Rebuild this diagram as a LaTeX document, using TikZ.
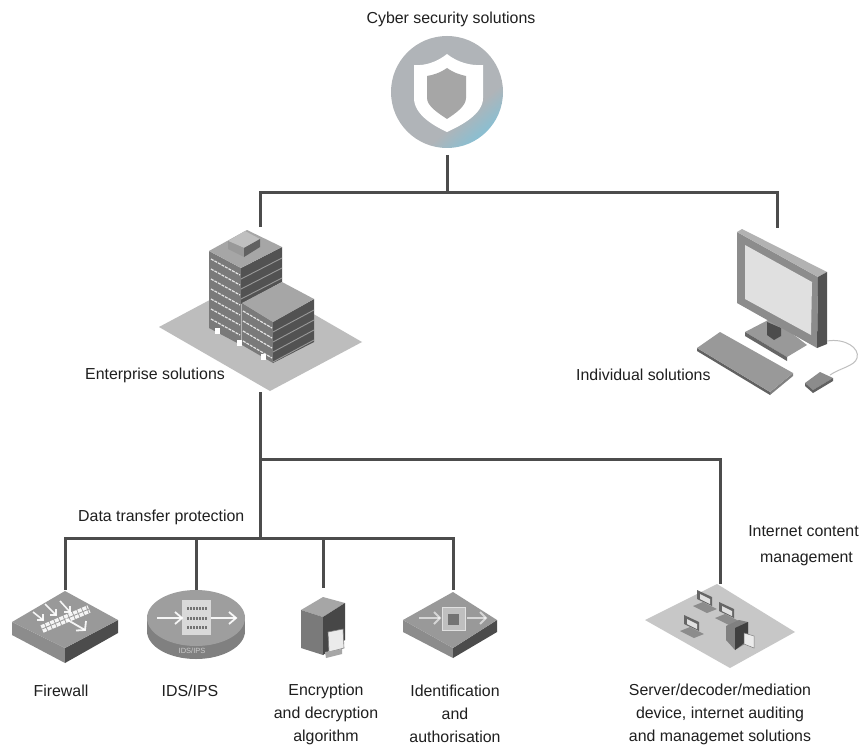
\documentclass[tikz,border=0pt]{standalone}
\usepackage{fontspec}
\setmainfont{Liberation Sans}
\definecolor{shieldblue}{RGB}{140,190,208}
\definecolor{shieldgrey}{RGB}{176,180,184}
\pgfdeclareverticalshading{shieldshade}{100bp}{color(0bp)=(shieldblue); color(26bp)=(shieldblue); color(37bp)=(shieldgrey); color(100bp)=(shieldgrey)}
\begin{document}
\begin{tikzpicture}[x=1pt,y=-1pt,
 lbl/.style={inner sep=0pt,font=\fontsize{15.9}{23}\selectfont,text=black!88,align=center},
 wire/.style={draw=black!70,line width=3pt,line cap=butt,line join=miter},
 gface/.style={fill=black!35,draw=none},
 lface/.style={fill=black!52,draw=none},
 dface/.style={fill=black!68,draw=none},
 ghost/.style={fill=black!26,draw=none},
 whitefill/.style={fill=white,draw=none},
 pcscreen/.style={fill=black!12,draw=none},
 arroww/.style={draw=white,line width=1.8pt,opacity=.9}]
\useasboundingbox (0,0) rectangle (866,746);
\fill[white] (0,0) rectangle (866,746);

% ---------- top icon ----------
\shade[shading=shieldshade,shading angle=40] (447,92) circle (56);
\path[fill=white] (447,54) .. controls (457,62) and (470,66) .. (483,65) -- (483,98) .. controls (483,114) and (462,125) .. (447,132) .. controls (432,125) and (414,114) .. (414,98) -- (414,65) .. controls (425,66) and (437,62) .. (447,54) -- cycle;
\path[fill=black!35] (447,68) .. controls (454,73) and (461,75) .. (466,76) -- (466,98) .. controls (466,106) and (456,113) .. (447,119) .. controls (438,113) and (427,106) .. (427,98) -- (427,76) .. controls (433,75) and (440,73) .. (447,68) -- cycle;

% ---------- building ----------
\path[ghost] (159,327) -- (251,278) -- (362,342) -- (270,391) -- cycle;
% tower
\path[lface] (209,251) -- (241,268) -- (241,345) -- (209,328) -- cycle;
\path[dface] (241,268) -- (282,247) -- (282,282) -- (241,304) -- cycle;
\path[gface] (209,251) -- (247,230) -- (282,247) -- (241,268) -- cycle;
\foreach \k in {0,...,6} {
 \draw[white,line width=1.2pt,dash pattern=on 3pt off 1pt,opacity=.8] (211,{259+\k*10}) -- (240,{275+\k*10});
}
\foreach \k in {0,1,2} \draw[black!40,line width=.9pt] (241,{279+\k*10}) -- (282,{258+\k*10});
\path[fill=black!25] (228,241) -- (245,231) -- (260,239) -- (244,248) -- cycle;
\path[fill=black!40] (228,241) -- (244,248) -- (244,257) -- (228,249) -- cycle;
\path[fill=black!62] (244,248) -- (260,239) -- (260,247) -- (244,257) -- cycle;
% lower block
\path[lface] (242,303) -- (273,322) -- (273,363) -- (242,345) -- cycle;
\path[dface] (273,322) -- (314,299) -- (314,342) -- (273,363) -- cycle;
\path[gface] (242,303) -- (282,282) -- (314,299) -- (273,322) -- cycle;
\foreach \k in {0,1,2,3} {
 \draw[white,line width=1.2pt,dash pattern=on 3pt off 1pt,opacity=.8] (243,{311+\k*10}) -- (272,{328+\k*10});
 \draw[black!40,line width=.9pt] (273,{332+\k*10}) -- (314,{310+\k*10});
}
\foreach \x/\y in {215/328,237/340,261/354} \path[whitefill] (\x,\y) rectangle ++(5,6);
% ---------- computer ----------
\path[fill=black!40] (745,332) -- (772,318) -- (807,345) -- (787,357) -- cycle;
\path[fill=black!60] (745,332) -- (787,357) -- (787,361) -- (745,336) -- cycle;
\path[fill=black!70] (767,322) -- (781,328) -- (781,336) -- (774,340) -- (767,335) -- cycle;
\path[fill=black!45] (737,232) -- (818,277) -- (817,348) -- (737,303) -- cycle;
\path[fill=black!30] (737,232) -- (742,229) -- (827,272) -- (818,277) -- cycle;
\path[fill=black!68] (818,277) -- (827,272) -- (827,344) -- (817,348) -- cycle;
\path[pcscreen] (745,245) -- (812,282) -- (811,335) -- (745,299) -- cycle;
\path[fill=black!62] (697,348) -- (770,392) -- (770,395) -- (697,351) -- cycle;
\path[fill=black!50] (770,392) -- (793,373) -- (793,376) -- (770,395) -- cycle;
\path[fill=black!40] (697,348) -- (720,332) -- (793,373) -- (770,392) -- cycle;
\draw[black!25,line width=1pt] (827,341) .. controls (845,338) and (860,348) .. (857,358) .. controls (855,366) and (840,368) .. (830,375);
\path[fill=black!45] (805,383) -- (820,372) -- (833,378) -- (813,390) -- cycle;
\path[fill=black!62] (805,383) -- (813,390) -- (833,378) -- (833,381) -- (813,393) -- (805,386) -- cycle;

% ---------- firewall ----------
\path[fill=black!45] (12,622) -- (65,648) -- (65,663) -- (12,635) -- cycle;
\path[fill=black!70] (65,648) -- (118,620) -- (118,633) -- (65,663) -- cycle;
\path[fill=black!40] (12,622) -- (65,591) -- (118,620) -- (65,648) -- cycle;
\draw[white,line width=8pt,dash pattern=on 4pt off 1pt,opacity=.9] (42,629) -- (89,609);
\draw[black!40,line width=.8pt] (42,629) -- (89,609);
\foreach \a/\b/\c/\d in {33/612/43/620,45/604/56/615,60/601/70/612} {
 \draw[arroww,line width=1.6pt] (\a,\b) -- (\c,\d);
 \draw[arroww,line width=1.6pt] (\c-6,\d) -- (\c,\d) -- (\c,\d-6);
}
\draw[arroww,line width=1.8pt] (66,619) -- (85,630);
\draw[arroww,line width=1.8pt] (76,630.5) -- (85,630) -- (86,621);

% ---------- IDS/IPS ----------
\path[fill=black!50] (196,631) ellipse[x radius=49,y radius=28];
\path[fill=black!50] (147,618) rectangle (245,631);
\path[fill=black!38] (196,618) ellipse[x radius=49,y radius=28];
\path[fill=black!15] (182,600) rectangle (211,635);
\foreach \yy in {608,618,627} \draw[black!55,line width=3pt,dash pattern=on 2pt off 1pt] (187,\yy) -- (207,\yy);
\draw[arroww] (157,618) -- (182,618);
\draw[arroww] (175,612) -- (182,618) -- (175,624);
\draw[arroww] (211,618) -- (236,618);
\draw[arroww] (229,612) -- (236,618) -- (229,624);
\node[inner sep=0pt,font=\fontsize{7.5}{8}\selectfont,text=black!20] (idslabel) at (192,651) {IDS/IPS};

% ---------- encryption ----------
\path[fill=black!35] (301,610) -- (323,597) -- (345,603) -- (323,617) -- cycle;
\path[fill=black!52] (301,610) -- (323,617) -- (323,655) -- (301,648) -- cycle;
\path[fill=black!72] (323,617) -- (345,603) -- (345,640) -- (323,655) -- cycle;
\path[fill=black!8,draw=black!50,line width=.6pt] (328,632) -- (343,629) -- (344,648) -- (329,652) -- cycle;
\path[fill=black!35] (325,652) -- (342,649) -- (342,654) -- (326,658) -- cycle;

% ---------- identification ----------
\path[fill=black!45] (403,620) -- (453,648) -- (453,658) -- (403,632) -- cycle;
\path[fill=black!70] (453,648) -- (497,620) -- (497,632) -- (453,658) -- cycle;
\path[fill=black!40] (403,620) -- (453,592) -- (497,620) -- (453,648) -- cycle;
\path[fill=black!25,draw=black!12,line width=1pt] (442,607) rectangle (465,630);
\path[fill=black!55] (448,614) rectangle (459,625);
\draw[arroww,opacity=.6] (419,618) -- (440,618);
\draw[arroww,opacity=.6] (434,612) -- (440,618) -- (434,624);
\draw[arroww,opacity=.6] (467,618) -- (486,618);
\draw[arroww,opacity=.6] (480,612) -- (486,618) -- (480,624);

% ---------- server platform ----------
\path[fill=black!22] (645,620) -- (717,584) -- (795,632) -- (730,668) -- cycle;
\foreach \x/\y in {705/598,727/610,692/623} {
 \path[fill=black!60] (\x-8,\y-8) -- (\x+7,\y-1) -- (\x+7,\y+8) -- (\x-8,\y+1) -- cycle;
 \path[fill=black!12] (\x-5,\y-4) -- (\x+5,\y+1) -- (\x+5,\y+6) -- (\x-5,\y+1) -- cycle;
 \path[fill=black!45] (\x-12,\y+8) -- (\x-2,\y+4) -- (\x+12,\y+11) -- (\x+2,\y+15) -- cycle;
}
\path[fill=black!50] (726,626) -- (739,620) -- (748,622) -- (748,642) -- (735,650) -- (726,640) -- cycle;
\path[fill=black!75] (735,628) -- (748,622) -- (748,640) -- (735,650) -- cycle;
\path[fill=black!8,draw=black!50,line width=.5pt] (744,633) -- (754,636) -- (754,648) -- (744,644) -- cycle;

% ---------- named connection points ----------
\coordinate (rootbot) at (447,155);
\coordinate (rootbus) at (447,192);
\coordinate (busl) at (260,192);
\coordinate (busr) at (777,192);
\coordinate (enttop) at (260,227);
\coordinate (indtop) at (777,228);
\coordinate (entbot) at (260,392);
\coordinate (jn) at (260,459);
\coordinate (jr) at (720,459);
\coordinate (srvtop) at (720,584);
\coordinate (dbus) at (260,538);
\coordinate (d1) at (65,538);
\coordinate (d2) at (196,538);
\coordinate (d3) at (323,538);
\coordinate (d4) at (453,538);
\coordinate (fwtop) at (65,590);
\coordinate (idstop) at (196,590);
\coordinate (enctop) at (323,588);
\coordinate (idtop) at (453,590);

\draw[wire] (rootbot) -- (rootbus);
\draw[wire] (enttop) -- (busl) -- (busr) -- (indtop);
\draw[wire] (entbot) -- (dbus);
\draw[wire] (jn) -- (jr) -- (srvtop);
\draw[wire] (fwtop) -- (d1) -- (d4) -- (idtop);
\draw[wire] (d2) -- (idstop);
\draw[wire] (d3) -- (enctop);

% ---------- labels ----------
\node[lbl] (cyber) at (451,19) {Cyber security solutions};
\node[lbl,anchor=west] (ent) at (85,375) {Enterprise solutions};
\node[lbl,anchor=west] (ind) at (576,375) {Individual solutions};
\node[lbl,anchor=west] (dtp) at (78,517) {Data transfer protection};
\node[lbl] (icm) at (803.5,546) {Internet content\\[3pt]\hspace*{6pt}management};
\node[lbl] (fw) at (61,691) {Firewall};
\node[lbl] (ids) at (190,691) {IDS/IPS};
\node[lbl] (enc) at (326,714) {Encryption\\and decryption\\algorithm};
\node[lbl] (idn) at (455,714) {Identification\\and\\authorisation};
\node[lbl] (srv) at (720,714) {Server/decoder/mediation\\device, internet auditing\\and managemet solutions};
\end{tikzpicture}
\end{document}
